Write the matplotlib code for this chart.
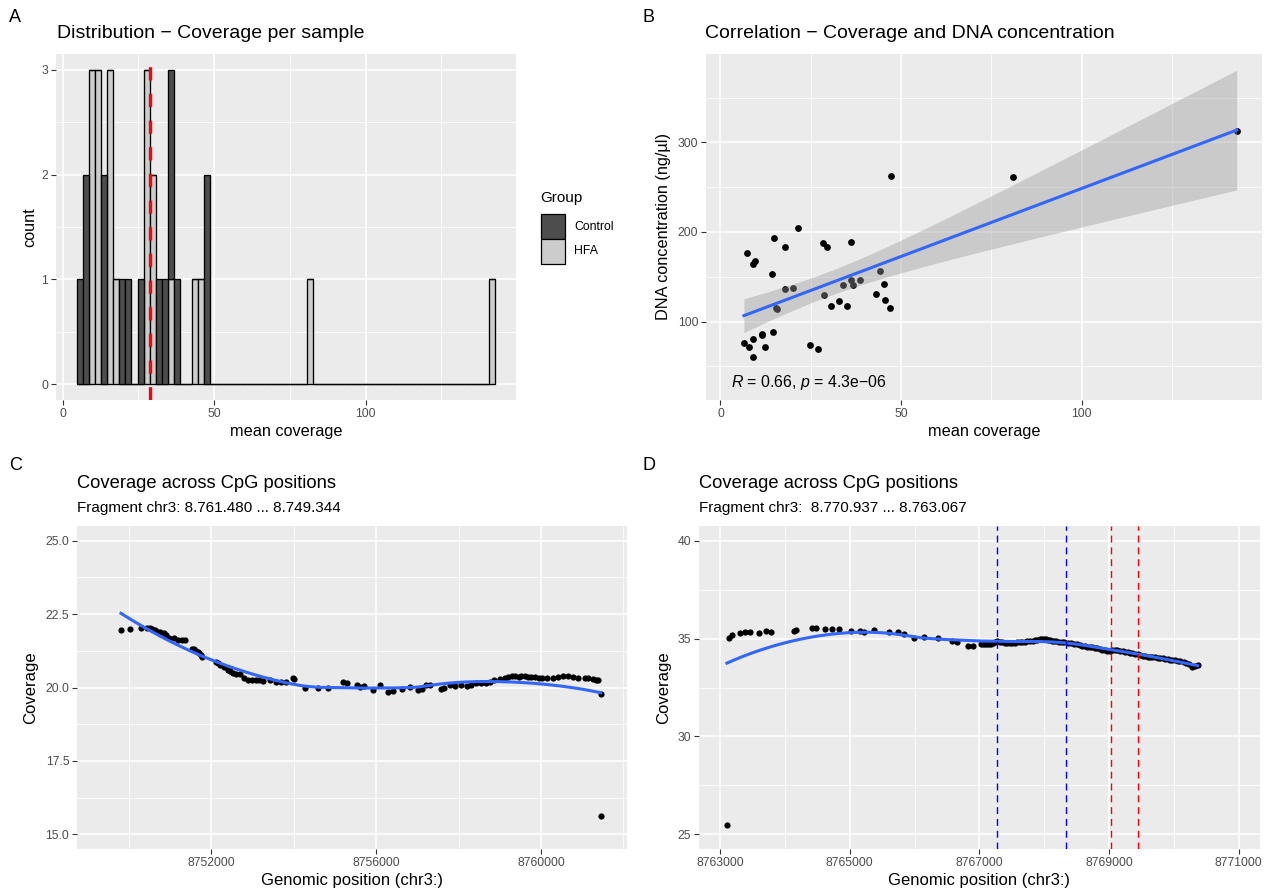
import numpy as np
import matplotlib
matplotlib.use("Agg")
import matplotlib.pyplot as plt
from matplotlib.patches import Rectangle
from matplotlib.ticker import FormatStrFormatter

plt.rcParams['font.family'] = ['Liberation Sans', 'DejaVu Sans']
plt.rcParams['mathtext.fontset'] = 'custom'
plt.rcParams['mathtext.it'] = 'Liberation Sans:italic'
plt.rcParams['mathtext.rm'] = 'Liberation Sans'

# ---- A: mean coverage per sample, by group
control_cov = [5.7, 7.7, 7.7, 13.7, 13.7, 19.7, 21.7, 25.7, 31.7, 33.7,
               35.7, 35.7, 37.7, 47.7, 47.7]
hfa_cov = [9.7, 9.7, 9.7, 11.7, 11.7, 11.7, 15.7, 15.7, 15.7, 17.7,
           27.7, 27.7, 27.7, 29.7, 29.7, 35.7, 43.7, 45.7, 81.7, 141.7]
bin_start = 4.74
binwidth = 2
groups = ['Control', 'HFA']
group_fill = {'Control': '#4D4D4D', 'HFA': '#CCCCCC'}

# ---- B: coverage vs DNA concentration
cov_x = [47.2, 21.4, 14.8, 17.8, 7.4, 9.6, 9.0, 28.3, 29.6, 36.1,
         14.2, 18.0, 20.0, 15.7, 15.5, 28.6, 30.7, 32.7, 35.0, 33.9,
         36.1, 36.7, 38.7, 44.1, 45.3, 43.0, 45.6, 46.9, 6.5, 7.9,
         9.0, 9.0, 11.5, 11.6, 12.3, 14.6, 24.8, 26.9, 142.9, 81.1]
dna_conc = [262.2, 204.1, 193.0, 183.3, 176.7, 167.4, 164.1, 187.1, 183.3, 188.2,
            153.0, 136.7, 137.4, 113.8, 115.6, 129.3, 117.8, 122.7, 117.1, 140.8,
            146.3, 140.4, 146.0, 156.3, 142.2, 130.4, 124.1, 115.6, 76.3, 71.1,
            80.4, 60.8, 84.9, 86.0, 71.1, 87.8, 73.3, 69.7, 313.0, 260.8]
cor_label = r"$R$ = 0.66, $p$ = 4.3e−06"

# ---- C: fragment chr3 8.749.344 - 8.761.480
frag_c = (8749344, 8761480)
pos_c = [8749805, 8750032, 8750300, 8750446, 8750510, 8750568, 8750640, 8750715,
         8750760, 8750854, 8750900, 8750976, 8751080, 8751178, 8751285, 8751350,
         8751529, 8751580, 8751627, 8751680, 8751707, 8751740, 8751773, 8752115,
         8752160, 8752220, 8752300, 8752398, 8752450, 8752520, 8752600, 8752683,
         8752780, 8752885, 8752980, 8753090, 8753160, 8753251, 8753420, 8753578,
         8753700, 8753822, 8753983, 8754000, 8754268, 8754593, 8754837, 8755202,
         8755300, 8755529, 8755610, 8755700, 8755920, 8756080, 8756276, 8756400,
         8756627, 8756829, 8757007, 8757100, 8757219, 8757300, 8757561, 8757650,
         8757788, 8757900, 8758049, 8758212, 8758300, 8758415, 8758550, 8758658,
         8758750, 8758861, 8759000, 8759122, 8759200, 8759300, 8759380, 8759471,
         8759520, 8759600, 8759680, 8759756, 8759850, 8759950, 8760017, 8760150,
         8760285, 8760400, 8760529, 8760650, 8760773, 8760900, 8761056, 8761150,
         8761250, 8761324, 8761380, 8761446, 8761446]
cov_c = [21.95, 22.00, 22.01, 22.02, 22.03, 21.98, 21.95, 21.90,
         21.88, 21.85, 21.78, 21.70, 21.68, 21.63, 21.62, 21.62,
         21.32, 21.30, 21.26, 21.22, 21.17, 21.10, 21.03, 20.88,
         20.84, 20.77, 20.70, 20.60, 20.55, 20.49, 20.47, 20.45,
         20.33, 20.26, 20.26, 20.26, 20.24, 20.23, 20.25, 20.20,
         20.19, 20.18, 20.32, 20.29, 20.00, 20.00, 19.98, 20.18,
         20.15, 20.07, 20.03, 20.05, 19.93, 20.07, 19.84, 19.88,
         19.96, 20.01, 19.90, 19.95, 20.09, 20.08, 19.96, 19.98,
         20.07, 20.05, 20.09, 20.06, 20.10, 20.17, 20.16, 20.15,
         20.20, 20.25, 20.30, 20.34, 20.36, 20.38, 20.38, 20.37,
         20.38, 20.38, 20.37, 20.37, 20.36, 20.33, 20.32, 20.33,
         20.34, 20.37, 20.40, 20.38, 20.35, 20.34, 20.34, 20.33,
         20.30, 20.26, 20.25, 19.79, 15.61]

# ---- D: fragment chr3 8.763.067 - 8.770.937
frag_d = (8763067, 8770937)
pos_d = [8763104, 8763144, 8763181, 8763309, 8763386, 8763453, 8763607, 8763711,
         8763784, 8764133, 8764175, 8764417, 8764484, 8764623, 8764726, 8764828,
         8765020, 8765164, 8765226, 8765369, 8765601, 8765740, 8765833, 8765998,
         8766153, 8766365, 8766581, 8766658, 8766822, 8766906, 8767019, 8767050,
         8767080, 8767115, 8767147, 8767180, 8767210, 8767245, 8767277, 8767315,
         8767350, 8767390, 8767431, 8767470, 8767510, 8767550, 8767586, 8767625,
         8767660, 8767700, 8767740, 8767780, 8767820, 8767860, 8767895, 8767930,
         8767960, 8767990, 8768023, 8768055, 8768090, 8768120, 8768152, 8768190,
         8768230, 8768270, 8768306, 8768360, 8768410, 8768460, 8768513, 8768550,
         8768590, 8768630, 8768668, 8768705, 8768745, 8768785, 8768822, 8768860,
         8768900, 8768940, 8768977, 8769015, 8769050, 8769090, 8769131, 8769170,
         8769210, 8769250, 8769286, 8769320, 8769360, 8769400, 8769441, 8769480,
         8769520, 8769560, 8769595, 8769630, 8769670, 8769710, 8769750, 8769790,
         8769830, 8769870, 8769904, 8769940, 8769980, 8770020, 8770059, 8770100,
         8770150, 8770190, 8770230, 8770275, 8770320, 8770368]
cov_d = [25.49, 35.02, 35.17, 35.27, 35.34, 35.31, 35.26, 35.39,
         35.36, 35.39, 35.46, 35.56, 35.56, 35.48, 35.51, 35.51,
         35.39, 35.39, 35.34, 35.43, 35.31, 35.34, 35.22, 35.02,
         35.10, 35.05, 34.85, 34.80, 34.63, 34.63, 34.74, 34.70,
         34.72, 34.73, 34.71, 34.74, 34.78, 34.82, 34.85, 34.83,
         34.80, 34.78, 34.77, 34.76, 34.76, 34.78, 34.80, 34.81,
         34.83, 34.84, 34.85, 34.87, 34.90, 34.93, 34.95, 34.96,
         34.97, 34.98, 34.97, 34.95, 34.92, 34.90, 34.88, 34.86,
         34.84, 34.82, 34.80, 34.78, 34.76, 34.74, 34.71, 34.67,
         34.64, 34.61, 34.58, 34.57, 34.55, 34.53, 34.51, 34.48,
         34.44, 34.40, 34.37, 34.38, 34.40, 34.41, 34.41, 34.38,
         34.35, 34.32, 34.29, 34.27, 34.24, 34.22, 34.20, 34.16,
         34.13, 34.10, 34.07, 34.06, 34.05, 34.04, 34.03, 34.01,
         33.99, 33.97, 33.95, 33.92, 33.90, 33.88, 33.86, 33.83,
         33.80, 33.76, 33.72, 33.57, 33.62, 33.66]
blue_marks = [8767266, 8768332]
red_marks = [8769032, 8769445]

W, H = 1272, 890


def px_box(left, top, right, bottom):
    return [left / W, 1 - bottom / H, (right - left) / W, (bottom - top) / H]


def px_pt(x, y):
    return x / W, 1 - y / H


def gg_style(ax, xmaj, xmin, ymaj, ymin):
    ax.set_facecolor('#EBEBEB')
    for s in ax.spines.values():
        s.set_visible(False)
    ax.set_xticks(xmaj)
    ax.set_xticks(xmin, minor=True)
    ax.set_yticks(ymaj)
    ax.set_yticks(ymin, minor=True)
    ax.grid(which='major', color='white', lw=1.1)
    ax.grid(which='minor', color='white', lw=0.55)
    ax.set_axisbelow(True)
    ax.tick_params(which='major', length=3.5, width=0.8, color='#333333',
                   labelsize=8.8, labelcolor='#4D4D4D', pad=2)
    ax.tick_params(which='minor', length=0)


def loess(x, y, grid, span=0.75):
    x = np.asarray(x, float)
    y = np.asarray(y, float)
    xm, xs = x.mean(), x.std()
    u = (x - xm) / xs
    g = (np.asarray(grid, float) - xm) / xs
    q = int(np.floor(len(x) * span))
    fit = []
    for g0 in g:
        d = np.abs(u - g0)
        h = np.sort(d)[q - 1]
        w = np.clip(1 - (d / h) ** 3, 0, None) ** 3
        A = np.vstack([np.ones_like(u), u - g0, (u - g0) ** 2]).T
        sw = np.sqrt(w)
        coef = np.linalg.lstsq(A * sw[:, None], y * sw, rcond=None)[0]
        fit.append(coef[0])
    return np.array(fit)


fig = plt.figure(figsize=(W / 100, H / 100), dpi=100)

# ---------------- A
axA = fig.add_axes(px_box(56, 54, 516, 400))
edges = np.arange(bin_start, 144, binwidth)
cnt_c, _ = np.histogram(control_cov, bins=edges)
cnt_h, _ = np.histogram(hfa_cov, bins=edges)
axA.bar(edges[:-1], cnt_h, width=binwidth, align='edge', color=group_fill['HFA'],
        edgecolor='black', linewidth=0.95)
axA.bar(edges[:-1], cnt_c, bottom=cnt_h, width=binwidth, align='edge',
        color=group_fill['Control'], edgecolor='black', linewidth=0.95)
mean_cov = np.mean(control_cov + hfa_cov)
axA.axvline(mean_cov, color='red', lw=2.4, ls=(0, (4, 4)), zorder=3)
span_a = edges[-1] - edges[0]
axA.set_xlim(edges[0] - 0.05 * span_a, edges[-1] + 0.05 * span_a)
axA.set_ylim(-0.15, 3.15)
gg_style(axA, [0, 50, 100], [25, 75, 125], [0, 1, 2, 3], [0.5, 1.5, 2.5])
axA.set_xlabel('mean coverage', fontsize=11.7, labelpad=3)
axA.set_ylabel('count', fontsize=11.7, labelpad=3)

# legend
fig.text(*px_pt(540, 198), 'Group', fontsize=11, ha='left', va='center')
for i, g in enumerate(groups):
    x0, y0 = px_pt(541, 239 + 25 * i)
    fig.add_artist(Rectangle((x0, y0), 24 / W, 25 / H, transform=fig.transFigure,
                             facecolor=group_fill[g], edgecolor='black', lw=0.9))
    fig.text(*px_pt(574, 226.5 + 25 * i), g, fontsize=8.8, ha='left', va='center')

# ---------------- B
axB = fig.add_axes(px_box(706, 54, 1262, 400))
axB.scatter(cov_x, dna_conc, s=24, color='black', linewidths=0, zorder=2)
bx = np.array(cov_x)
by = np.array(dna_conc)
slope, icpt = np.polyfit(bx, by, 1)
n = len(bx)
resid = by - (slope * bx + icpt)
s_err = np.sqrt(np.sum(resid ** 2) / (n - 2))
sxx = np.sum((bx - bx.mean()) ** 2)
xs = np.linspace(bx.min(), bx.max(), 100)
ys = slope * xs + icpt
ci = 2.024 * s_err * np.sqrt(1 / n + (xs - bx.mean()) ** 2 / sxx)
axB.fill_between(xs, ys - ci, ys + ci, color='#999999', alpha=0.4, lw=0, zorder=3)
axB.plot(xs, ys, color='#3366FF', lw=2.2, zorder=4)
axB.text(0.045, 0.05, cor_label, transform=axB.transAxes, fontsize=11.4,
         ha='left', va='center')
axB.set_xlim(-4.0, 149.9)
axB.set_ylim(12.4, 398.6)
gg_style(axB, [0, 50, 100], [25, 75, 125], [100, 200, 300], [50, 150, 250, 350])
axB.set_xlabel('mean coverage', fontsize=11.7, labelpad=3)
axB.set_ylabel('DNA concentration (ng/µl)', fontsize=11.7, labelpad=5)

# ---------------- C
axC = fig.add_axes(px_box(77, 526, 627, 849))
axC.scatter(pos_c, cov_c, s=20, color='black', linewidths=0, zorder=2)
gc = np.linspace(min(pos_c), max(pos_c), 200)
axC.plot(gc, loess(pos_c, cov_c, gc), color='#3366FF', lw=2.2, zorder=3)
rc = frag_c[1] - frag_c[0]
axC.set_xlim(frag_c[0] - 0.05 * rc, frag_c[1] + 0.05 * rc)
axC.set_ylim(14.5, 25.5)
gg_style(axC, [8752000, 8756000, 8760000], [8750000, 8754000, 8758000, 8762000],
         [15, 17.5, 20, 22.5, 25], [16.25, 18.75, 21.25, 23.75])
axC.ticklabel_format(axis='x', useOffset=False, style='plain')
axC.yaxis.set_major_formatter(FormatStrFormatter('%.1f'))
axC.set_xlabel('Genomic position (chr3:)', fontsize=12, labelpad=3)
axC.set_ylabel('Coverage', fontsize=12, labelpad=5)

# ---------------- D
axD = fig.add_axes(px_box(699, 526, 1260, 849))
axD.scatter(pos_d, cov_d, s=20, color='black', linewidths=0, zorder=2)
gd = np.linspace(min(pos_d), max(pos_d), 200)
axD.plot(gd, loess(pos_d, cov_d, gd), color='#3366FF', lw=2.2, zorder=3)
for xv in blue_marks:
    axD.axvline(xv, color='blue', lw=1.0, ls=(0, (5, 3.5)), zorder=4)
for xv in red_marks:
    axD.axvline(xv, color='red', lw=1.0, ls=(0, (5, 3.5)), zorder=4)
rd = frag_d[1] - frag_d[0]
axD.set_xlim(frag_d[0] - 0.05 * rd, frag_d[1] + 0.05 * rd)
axD.set_ylim(24.25, 40.75)
gg_style(axD, list(range(8763000, 8771001, 2000)), list(range(8764000, 8770001, 2000)),
         [25, 30, 35, 40], [27.5, 32.5, 37.5])
axD.ticklabel_format(axis='x', useOffset=False, style='plain')
axD.set_xlabel('Genomic position (chr3:)', fontsize=12, labelpad=3)
axD.set_ylabel('Coverage', fontsize=12, labelpad=5)

# ---------------- titles and panel tags
fig.text(*px_pt(57, 34), 'Distribution − Coverage per sample', fontsize=14,
         ha='left', va='center')
fig.text(*px_pt(705, 34), 'Correlation − Coverage and DNA concentration', fontsize=14,
         ha='left', va='center')
fig.text(*px_pt(77, 483), 'Coverage across CpG positions', fontsize=13.2,
         ha='left', va='center')
fig.text(*px_pt(77, 508), 'Fragment chr3: 8.761.480 ... 8.749.344', fontsize=11,
         ha='left', va='center')
fig.text(*px_pt(699, 483), 'Coverage across CpG positions', fontsize=13.2,
         ha='left', va='center')
fig.text(*px_pt(699, 508), 'Fragment chr3:  8.770.937 ... 8.763.067', fontsize=11,
         ha='left', va='center')
for tag, (tx, ty) in zip('ABCD', [(9, 18), (643, 18), (9, 465), (643, 465)]):
    fig.text(*px_pt(tx, ty), tag, fontsize=13, ha='left', va='center')

fig.savefig('out.png', dpi=100, facecolor='white')
